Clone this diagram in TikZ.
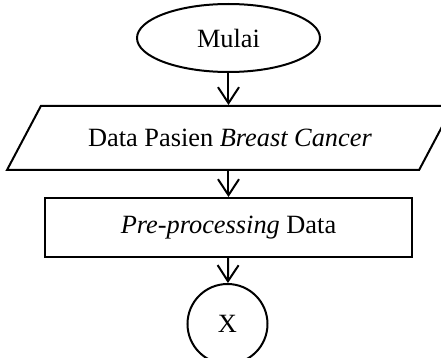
\documentclass[tikz,border=0pt]{standalone}
\usepackage{fontspec}
\setmainfont{Liberation Serif}
\usepackage{tikz}
\usetikzlibrary{arrows.meta,shapes.geometric}

\begin{document}
\begin{tikzpicture}[
  font=\fontsize{15}{18}\selectfont, line width=0.04cm,
  terminal/.style={draw,ellipse,minimum width=3.66cm,minimum height=1.36cm,inner sep=0pt},
  io/.style={draw,trapezium,trapezium left angle=62,trapezium right angle=118,
             trapezium stretches body,minimum width=8.92cm,minimum height=1.28cm,
             inner xsep=0pt,inner ysep=0.46cm},
  proses/.style={draw,rectangle,minimum width=7.34cm,minimum height=1.18cm,inner sep=0pt},
  konektor/.style={draw,circle,minimum size=1.6cm,inner sep=0pt},
  flow/.style={-{Straight Barb[length=0.32cm,width=0.42cm]}},
]
\useasboundingbox (0,0) rectangle (8.82,-7.16);
% flowchart
\node[terminal] (mulai) at (4.57,-0.76) {Mulai};
\node[io]       (data)  at (4.60,-2.76) {Data Pasien \textit{Breast Cancer}};
\node[proses]   (prep)  at (4.57,-4.55) {\textit{Pre-processing} Data};
\node[konektor] (x)     at (4.55,-6.48) {X};
% arrows
\draw[flow] (mulai) -- (mulai |- data.north);
\draw[flow] (data.south -| mulai) -- (prep);
\draw[flow] (prep) -- (x);
\end{tikzpicture}
\end{document}
